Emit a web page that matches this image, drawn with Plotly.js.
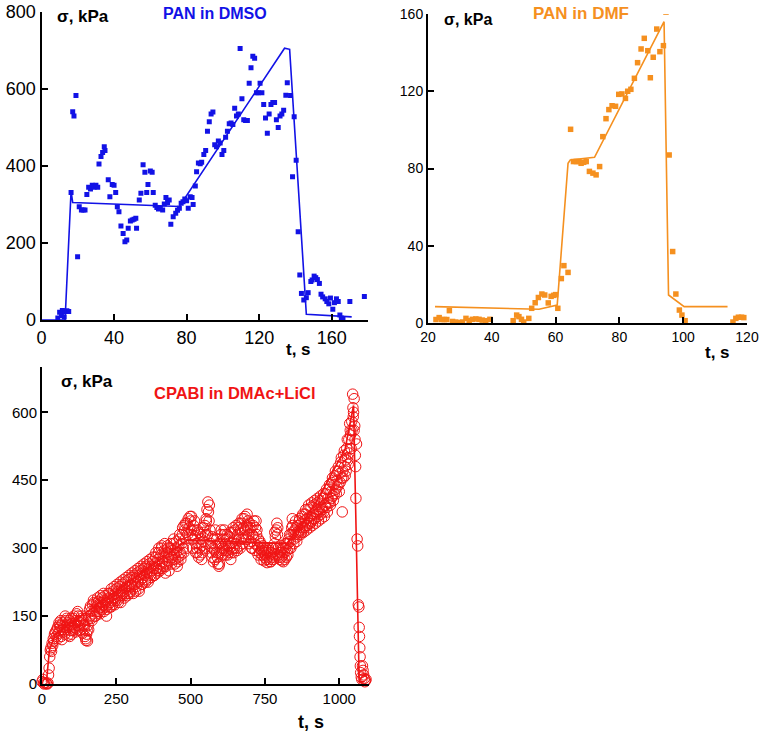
<!DOCTYPE html>
<html><head><meta charset="utf-8">
<script src="https://cdn.plot.ly/plotly-3.0.1.min.js"></script>
<style>html,body{margin:0;padding:0;background:#fff}#plot{width:762px;height:733px}</style>
</head><body><div id="plot"></div>
<script>
// ---- Panel 1: PAN in DMSO ----
var dmsoT = [9,10,11,11.5,12,12.5,13,14,15,16.3,17.2,17.9,19,19.9,20.8,22,23,24,25,26,27,28,29,30,31,31.7,32.8,33.7,34.6,35,36.8,37.7,39,40,40.9,41.8,42.7,43.8,45,46,47,47.8,49,50,51,52,52.4,53.9,54.8,56,57,58,58.7,60,61,61.6,62.7,63.6,64.5,65.5,66.8,67.7,68.6,69.5,70.4,71.3,72.6,74,75,76,77,78,79,80,80.9,82,83,83.6,84.8,85.5,86.5,87.5,88.3,89.5,90.5,91.5,92.5,93.5,94.5,95.5,96.5,97.5,98.5,99.5,100.5,101.5,102.5,103.5,104.5,105.5,106.5,107.5,108.5,109.5,110.5,111.5,112.5,113.5,114.5,115.5,116.5,117.5,118.5,119.5,120.5,121.5,122.5,123.5,124.5,125.5,126.5,127.5,128.5,129.5,130.5,131.5,132.5,133.5,134.7,135.5,137.3,138.4,139.3,140.4,141.5,142.4,143.3,144.6,146,147,148.5,149.2,150.3,151.2,152.1,153.2,154.1,155,156.4,157.3,158.4,159.3,160.6,161.5,162.6,163.6,164.5,165.3,166.2,170,178,179];
var dmsoS = [5,20,12,25,22,8,22,24,22,331,541,530,583,164,294,286,286,286,326,345,340,350,345,350,345,405,425,435,450,440,364,320,352,350,331,294,281,244,225,203,208,238,257,260,262,264,238,312,329,403,384,331,352,387,384,331,298,292,288,290,286,301,318,305,312,249,268,277,285,290,303,307,314,310,290,320,318,300,348,385,408,406,410,430,440,490,515,535,540,455,450,465,460,430,440,475,490,510,512,508,550,530,535,705,575,520,518,518,615,655,685,680,590,590,615,590,560,525,485,535,560,565,565,520,500,530,535,545,584,616,583,372,528,415,229,117,69,52,58,71,100,104,114,110,105,95,67,60,55,48,42,57,28,45,55,48,13,5,2,48,61];
var dmsoFitT = [0,13,16.3,17.2,76,134,136.8,146,171];
var dmsoFitS = [0,0,335,305,295,706,703,15,8];

// ---- Panel 2: PAN in DMF ----
var dmfT = [22.5,23.5,24.3,25.1,25.9,26.7,27.7,28.7,29.8,30.8,31.9,32.9,33.9,35,36,37,38.1,39.4,46.7,47.8,48.5,49.3,50,51.6,52.5,53.6,54.6,55.7,56.6,57.7,58.6,59.4,60,60.7,61.8,62.6,63.9,64.7,65.6,66.5,67.3,68,68.8,69.6,70.6,71.7,72.7,73.8,74.8,75.8,76.7,77.7,78.8,79.8,80.8,81.9,82.6,83.6,84.7,85.7,86.8,87.8,88.9,89.7,90.6,91.7,92.7,93.8,94.6,95.6,96.7,97.7,98.8,99.6,100.6,115.6,116.5,117.3,118.3,119];
var dmfS = [1.8,2.8,1.8,1.8,1.8,6.4,0.8,0.5,0.2,0.5,2.4,1.2,1.9,2.1,1.9,1.5,1.2,1.9,1.2,4.1,3.3,1.9,0.5,2.4,7.6,10.5,13.2,15,14.5,10.4,13.8,14.3,14.7,7.6,23,29.7,26.2,100.3,83.6,83.6,83.6,82.7,83.2,83.6,78.5,77.6,76.7,81,96.5,105.8,110.5,112.5,112.2,118.4,118.6,116.3,120,121,126.7,134.8,141.9,147.4,141,127,137.6,152.2,140.5,143.6,161,87,37,15,6.7,4.1,1.2,0.5,2.4,3,3,2.8];
var dmfFitT = [22.2,54.8,60.5,63.9,64.6,72.2,94,95.4,100.3,113.9];
var dmfFitS = [8.5,7.1,9.3,82.7,84.4,85.8,156,14.5,8.5,8.5];

// ---- Panel 3: CPABI in DMAc+LiCl ----
var cpT = [0,3,5,8,10,15,18,20,22,24,26,28,30,32,34,36,38,40,42,45,48,50,52,55,58,60,62,65,68,70,72,75,78,80,82,85,88,90,92,95,98,100,102,105,108,110,112,115,118,120,122,125,128,130,132,135,138,140,142,145,148,150,152,155,158,160,162,165,168,170,172,175,178,180,182,185,188,190,192,195,198,200,202,205,208,210,212,215,218,220,222,225,228,230,232,235,238,240,242,245,248,250,252,255,258,260,262,265,268,270,272,275,278,280,282,285,288,290,292,295,298,300,302,305,308,310,312,315,318,320,322,325,328,330,332,335,338,340,342,345,348,350,352,355,358,360,362,365,368,370,372,375,378,380,382,385,388,390,392,395,398,400,402,405,408,410,412,415,418,420,422,425,428,430,432,435,438,440,442,445,448,450,452,455,458,460,462,465,468,470,472,475,478,480,482,485,488,490,492,495,498,500,502,505,508,510,512,515,518,520,522,525,528,530,532,535,538,540,542,545,548,550,552,555,558,560,562,565,568,570,572,575,578,580,582,585,588,590,592,595,598,600,602,605,608,610,612,615,618,620,622,625,628,630,632,635,638,640,642,645,648,650,652,655,658,660,662,665,668,670,672,675,678,680,682,685,688,690,692,695,698,700,702,705,708,710,712,715,718,720,722,725,728,730,732,735,738,740,742,745,748,750,752,755,758,760,762,765,768,770,772,775,778,780,782,785,788,790,792,795,798,800,802,805,808,810,812,815,818,820,822,825,828,830,832,835,838,840,842,845,848,850,852,855,858,860,862,865,868,870,872,875,878,880,882,885,888,890,892,895,898,900,902,905,908,910,912,915,918,920,922,925,928,930,932,935,938,940,942,945,948,950,952,955,958,960,962,965,968,970,972,975,978,980,982,985,988,990,992,995,998,1000,1002,1005,1008,1010,1012,1015,1018,1020,1022,1025,1028,1030,1032,1035,1038,1040,1042,1045,1046,1048,1050,1050,1052,1053,1054,1055,1056,1058,1060,1062,1064,1066,1067,1068,1069,1070,1071,1072,1074,1076,1078,1080,1082,1084,1086,1088,1090];
var cpS = [5,10,2,0,3,1,0,2,20,35,60,75,80,72,90,85,100,95,110,115,105,120,125,112,130,118,128,105,120,135,115,125,150,140,120,130,108,125,140,118,132,110,128,145,125,120,135,140,130,160,150,128,140,135,120,145,130,140,120,105,96,110,118,130,145,165,150,160,140,175,155,180,165,150,170,160,175,182,168,155,180,170,190,175,160,185,195,170,165,185,175,190,200,180,170,195,185,205,190,175,200,210,190,185,205,215,195,180,205,220,200,195,210,225,205,215,200,230,215,200,220,235,215,210,230,240,220,205,235,245,225,210,240,250,230,220,245,235,255,240,225,260,245,230,255,265,245,240,260,250,270,255,240,265,280,255,250,275,290,265,255,285,300,270,260,280,295,245,265,290,305,280,270,285,300,265,275,295,310,285,275,300,290,260,280,305,320,290,285,310,330,300,350,340,320,335,355,330,365,345,370,360,340,330,320,350,340,325,310,300,290,310,335,300,285,320,305,290,315,335,350,330,365,385,402,380,360,340,310,290,280,300,320,295,275,305,320,280,265,260,290,310,330,300,285,320,300,330,310,295,320,285,305,325,300,275,310,335,300,290,320,340,310,300,330,345,320,305,340,355,320,310,345,365,340,325,350,375,345,330,355,340,315,300,330,350,325,310,345,360,330,305,320,300,290,310,295,285,300,290,280,295,285,275,290,280,300,275,285,270,290,280,300,285,310,325,340,355,330,300,285,275,290,280,300,285,270,290,310,300,280,295,310,320,300,315,330,345,365,335,320,340,330,345,325,350,335,360,340,330,355,370,345,335,360,375,350,340,365,385,355,345,370,390,360,350,375,395,365,355,380,400,370,360,385,405,375,365,390,410,380,370,395,420,390,380,410,430,400,395,425,445,415,405,440,460,430,420,450,470,440,425,465,490,455,380,470,505,480,460,495,520,500,485,540,575,550,520,580,640,610,600,630,560,570,540,505,480,410,530,320,305,175,170,125,105,80,60,40,25,15,10,40,30,20,12,5,8,10];
// second pass of circles read between the first ones (the cloud is two to three circles thick)
var cpT2 = [53,57,63,67,73,77,83,87,93,97,103,107,113,117,123,127,133,137,143,147,153,157,163,167,173,177,183,187,193,197,203,207,213,217,223,227,233,237,243,247,253,257,263,267,273,277,283,287,293,297,303,307,313,317,323,327,333,337,343,347,353,357,363,367,373,377,383,387,393,397,403,407,413,417,423,427,433,437,443,447,453,457,463,467,473,477,483,487,503,507,513,517,523,527,533,537,543,547,553,557,563,567,573,577,583,587,593,597,603,607,613,617,623,627,633,637,643,647,653,657,663,667,673,677,683,687,693,697,703,707,713,717,723,727,733,737,743,747,753,757,763,767,773,777,783,787,793,797,803,807,813,817,823,827,833,837,843,847,853,857,863,867,873,877,883,887,893,897,903,907,913,917,923,927,933,937,943,947,953,957,963,967,973,977,983,987,993,997,1003,1007,1013,1017,1023,1027,1033,1037,1043,1047];
var cpS2 = [100,135,140,98,128,110,145,135,105,145,118,150,115,155,138,118,150,112,130,100,95,120,172,145,185,150,178,190,160,195,165,200,180,150,200,170,210,175,215,185,220,180,225,195,230,190,235,195,240,205,245,200,250,215,255,205,260,220,265,230,270,225,275,235,280,240,290,245,300,250,305,255,310,260,300,250,310,280,320,265,315,270,330,275,345,290,355,300,370,300,360,290,340,280,330,275,345,300,360,330,395,305,325,270,340,290,310,265,340,295,340,285,330,290,335,290,345,300,350,295,355,300,365,320,370,320,360,310,345,300,360,295,340,285,315,275,305,272,300,268,295,270,300,275,335,300,345,280,305,272,300,275,310,285,330,300,350,310,360,315,330,365,335,375,345,385,350,395,355,400,365,405,375,410,380,415,385,420,395,430,400,440,410,455,420,470,435,480,445,500,455,515,470,540,510,560,560,590];
var cpFitT = [15,25,45,490,823,870,930,980,1020,1048,1067,1085];
var cpFitS = [5,75,110,318,310,350,410,470,520,615,5,5];

// Tick labels
var ticks1x = [0,40,80,120,160], ticks1y = [0,200,400,600,800];
var ticks2x = [20,40,60,80,100,120], ticks2y = [0,40,80,120,160];
var ticks3x = [0,250,500,750,1000], ticks3y = [0,150,300,450,600];

var W = 762, H = 733;
function px(x){return x/W;}
function py(y){return 1 - y/H;}

var blue = '#1212e6', orange = '#f5901f', red = '#f01414';

var traces = [
  {x: dmsoT, y: dmsoS, xaxis:'x', yaxis:'y', mode:'markers', type:'scatter',
   marker:{symbol:'square', size:5, color:blue}},
  {x: dmsoFitT, y: dmsoFitS, xaxis:'x', yaxis:'y', mode:'lines', type:'scatter',
   line:{color:blue, width:1.6}},
  {x: dmfT, y: dmfS, xaxis:'x2', yaxis:'y2', mode:'markers', type:'scatter',
   marker:{symbol:'square', size:5.5, color:orange}},
  {x: dmfFitT, y: dmfFitS, xaxis:'x2', yaxis:'y2', mode:'lines', type:'scatter',
   line:{color:orange, width:1.6}},
  {x: cpT.concat(cpT2), y: cpS.concat(cpS2), xaxis:'x3', yaxis:'y3', mode:'markers', type:'scatter', cliponaxis:false,
   marker:{symbol:'circle-open', size:10.5, color:red, line:{width:1, color:red}}},
  {x: cpFitT, y: cpFitS, xaxis:'x3', yaxis:'y3', mode:'lines', type:'scatter', cliponaxis:false,
   line:{color:red, width:1.6}}
];

function ax(range, tv, dom, anchor, fs){
  return {range: range, tickvals: tv, ticktext: tv.map(String), domain: dom, anchor: anchor,
    showline:true, linecolor:'#000', linewidth:2, ticks:'inside', ticklen:6, tickwidth:2, tickcolor:'#000',
    showgrid:false, zeroline:false, fixedrange:true,
    tickfont:{family:'Liberation Sans, Arial, sans-serif', size:fs, color:'#000'}};
}

var layout = {
  width: W, height: H, showlegend:false,
  margin:{l:0,r:0,t:0,b:0,pad:0},
  paper_bgcolor:'#fff', plot_bgcolor:'#fff',
  xaxis: ax([0,180], ticks1x, [px(41.5), px(368)], 'y', 18),
  yaxis: ax([0,800], ticks1y, [py(320), py(12)], 'x', 18),
  xaxis2: ax([20,120], ticks2x, [px(428), px(747)], 'y2', 14),
  yaxis2: ax([0,160], ticks2y, [py(323), py(14)], 'x2', 14),
  xaxis3: ax([0,1100], ticks3x, [px(42), px(369)], 'y3', 15),
  yaxis3: ax([0,700], ticks3y, [py(684), py(367)], 'x3', 15),
  annotations: []
};

function note(text, x, y, color, size){
  layout.annotations.push({text:text, xref:'paper', yref:'paper', x:px(x), y:py(y),
    xanchor:'center', yanchor:'middle', showarrow:false,
    font:{family:'Liberation Sans, Arial, sans-serif', size:size, color:color}});
}
note('<b>σ, kPa</b>', 83, 16, '#000', 17);
note('<b>PAN in DMSO</b>', 215, 14, blue, 16);
note('<b>t, s</b>', 298, 350, '#000', 17);
note('<b>σ, kPa</b>', 468, 20, '#000', 16);
note('<b>PAN in DMF</b>', 581, 14, orange, 17);
note('<b>t, s</b>', 717, 352, '#000', 17);
note('<b>σ, kPa</b>', 87, 381, '#000', 17);
note('<b>CPABI in DMAc+LiCl</b>', 235, 393, red, 16.5);
note('<b>t, s</b>', 311, 722, '#000', 18);

Plotly.newPlot('plot', traces, layout, {staticPlot:true, displayModeBar:false});
</script></body></html>
